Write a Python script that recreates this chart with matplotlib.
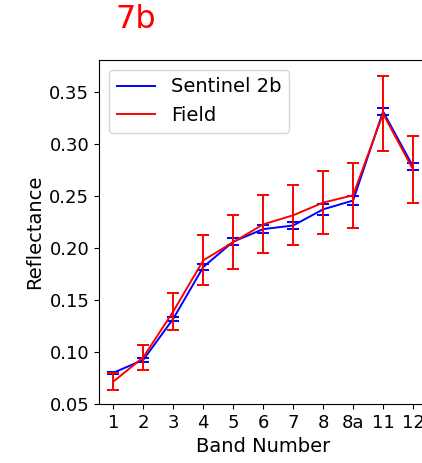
import matplotlib
matplotlib.use("Agg")
import matplotlib.pyplot as plt
import numpy as np

bands = ["1", "2", "3", "4", "5", "6", "7", "8", "8a", "11", "12"]
sentinel = [0.080, 0.0925, 0.132, 0.1816, 0.206, 0.218, 0.2215, 0.237, 0.2455, 0.331, 0.2782]
sentinel_err = [0.001, 0.002, 0.002, 0.0033, 0.0034, 0.004, 0.0037, 0.0055, 0.0045, 0.0036, 0.0031]
field = [0.0715, 0.095, 0.139, 0.188, 0.2055, 0.2226, 0.2313, 0.2435, 0.2505, 0.329, 0.2753]
field_err = [0.0085, 0.012, 0.0177, 0.024, 0.026, 0.028, 0.029, 0.030, 0.031, 0.036, 0.032]

fig = plt.figure(figsize=(4.22, 4.63), dpi=100)
ax = fig.add_axes([99/422, 59/463, 329/422, 344/463])

x = np.arange(len(bands))
ax.plot(x, sentinel, color="blue", lw=1.4, label="Sentinel 2b")
ax.errorbar(x, sentinel, yerr=sentinel_err, fmt="none", ecolor="blue", elinewidth=1.4, capsize=4.5, capthick=1.4)
ax.plot(x, field, color="red", lw=1.4, label="Field")
ax.errorbar(x, field, yerr=field_err, fmt="none", ecolor="red", elinewidth=1.4, capsize=4.5, capthick=1.4)

ax.set_xticks(x)
ax.set_xticklabels(bands)
ax.set_xlim(-0.48, 10.5)
ax.set_ylim(0.05, 0.3805)
ax.set_yticks([0.05, 0.10, 0.15, 0.20, 0.25, 0.30, 0.35])
ax.tick_params(labelsize=13)
ax.set_xlabel("Band Number", fontsize=14)
ax.set_ylabel("Reflectance", fontsize=14)
ax.legend(loc="upper left", fontsize=14)

fig.text(136/422, 1 - 20/463, "7b", color="red", fontsize=23, ha="center", va="center")

fig.savefig("out.png", dpi=100)
